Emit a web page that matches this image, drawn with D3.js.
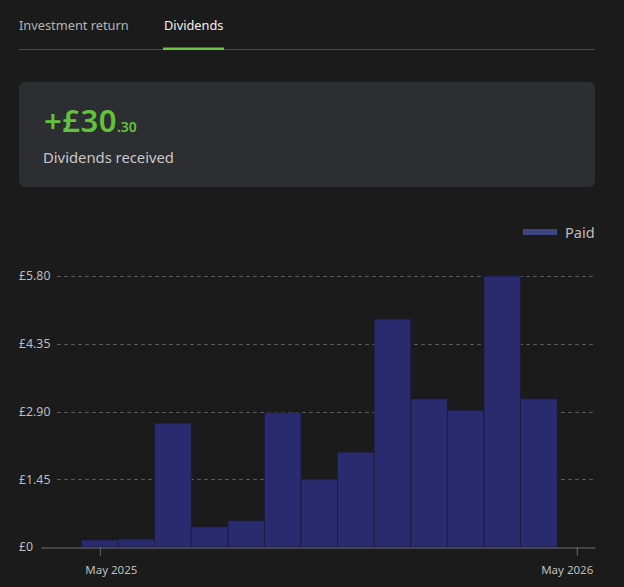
<!DOCTYPE html>
<html>
<head>
<meta charset="utf-8">
<script src="https://cdn.jsdelivr.net/npm/d3@7"></script>
<style>
  html, body { margin: 0; padding: 0; background: #1b1b1b; }
  svg { display: block; font-family: "Noto Sans", "Open Sans", sans-serif; }
</style>
</head>
<body>
<div id="wrapper"></div>
<script>
// four-weekly dividend periods (centre date) and amount paid
const periodDates = ["2025-05-01", "2025-05-29", "2025-06-26", "2025-07-24", "2025-08-21",
    "2025-09-18", "2025-10-16", "2025-11-13", "2025-12-11", "2026-01-08",
    "2026-02-05", "2026-03-05", "2026-04-02"]
const paidValues = [0.15, 0.17, 2.65, 0.43, 0.56, 2.87, 1.45, 2.03, 4.88, 3.17, 2.93, 5.80, 3.17]
const xTickDates = ["2025-05-01", "2026-05-01"]
const tabLabels = ["Investment return", "Dividends"]
const totalReceived = "30.30"
const seriesName = "Paid"

function drawChart() {
    const dimensions = {
        width: 624,
        height: 587,
        margin: { top: 276, right: 29, bottom: 40, left: 41 },
    }
    dimensions.boundedWidth = dimensions.width - dimensions.margin.left - dimensions.margin.right
    dimensions.boundedHeight = dimensions.height - dimensions.margin.top - dimensions.margin.bottom

    const parse = d3.timeParse("%Y-%m-%d")
    const data = periodDates.map((d, i) => ({ date: parse(d), value: paidValues[i] }))

    const svg = d3.select("#wrapper")
        .append("svg")
            .attr("width", dimensions.width)
            .attr("height", dimensions.height)

    // tabs
    const tabX = [19, 164]
    svg.selectAll(".tab")
        .data(tabLabels)
        .join("text")
        .attr("x", (d, i) => tabX[i])
        .attr("y", 30)
        .attr("font-size", 12.8)
        .attr("fill", (d, i) => i == 1 ? "#f0f0f0" : "#b4b4b4")
        .text(d => d)
    svg.append("line")
        .attr("x1", 19).attr("x2", 595)
        .attr("y1", 49.5).attr("y2", 49.5)
        .attr("stroke", "#4a4a4a")
    svg.append("rect")
        .attr("x", 163).attr("y", 47.5)
        .attr("width", 61).attr("height", 2.5)
        .attr("fill", "#6cc644")

    // summary card
    svg.append("rect")
        .attr("x", 19).attr("y", 82)
        .attr("width", 576).attr("height", 105)
        .attr("rx", 6)
        .attr("fill", "#2d2e32")
    const [whole, pence] = totalReceived.split(".")
    const total = svg.append("text")
        .attr("x", 44).attr("y", 132)
        .attr("fill", "#62c23a")
        .attr("font-weight", 600)
    total.append("tspan").attr("font-size", 31).attr("letter-spacing", 0.5).text("+£" + whole)
    total.append("tspan").attr("font-size", 14).text("." + pence)
    svg.append("text")
        .attr("x", 43).attr("y", 163)
        .attr("font-size", 14.8)
        .attr("fill", "#c8c8c8")
        .text("Dividends received")

    // legend
    svg.append("rect")
        .attr("x", 523).attr("y", 229)
        .attr("width", 34).attr("height", 6)
        .attr("fill", "#3d4580")
    svg.append("text")
        .attr("x", 565).attr("y", 238)
        .attr("font-size", 14.5)
        .attr("fill", "#bdbdbd")
        .text(seriesName)

    const bounds = svg.append("g")
        .style("transform", `translate(${dimensions.margin.left}px, ${dimensions.margin.top}px)`)

    // scales
    const half = 14
    const xScale = d3.scaleTime()
        .domain([parse("2025-03-17"), parse("2026-05-15")])
        .range([0, dimensions.boundedWidth])

    const maxValue = d3.max(data, d => d.value)
    const yScale = d3.scaleLinear()
        .domain([0, maxValue])
        .range([dimensions.boundedHeight, 0])
    const yTicks = d3.range(0, 5).map(i => maxValue * i / 4)

    // grid
    bounds.selectAll(".grid")
        .data(yTicks.slice(1))
        .join("line")
        .attr("x1", 16).attr("x2", dimensions.boundedWidth)
        .attr("y1", d => Math.round(yScale(d)) + 0.5)
        .attr("y2", d => Math.round(yScale(d)) + 0.5)
        .attr("stroke", "#575757")
        .attr("stroke-dasharray", "4 3")

    bounds.selectAll(".ylabel")
        .data(yTicks)
        .join("text")
        .attr("x", -22)
        .attr("y", d => yScale(d))
        .attr("dy", "0.35em")
        .attr("font-size", 12.3)
        .attr("fill", "#bdbdbd")
        .text(d => d == 0 ? "£0" : "£" + d.toFixed(2))

    // bars
    bounds.selectAll(".bar")
        .data(data)
        .join("rect")
        .attr("x", d => xScale(d3.timeDay.offset(d.date, -half)))
        .attr("width", d => xScale(d3.timeDay.offset(d.date, half)) - xScale(d3.timeDay.offset(d.date, -half)))
        .attr("y", d => yScale(d.value))
        .attr("height", d => yScale(0) - yScale(d.value))
        .attr("fill", "#2a2a6f")
        .attr("stroke", "#1c1c3c")
        .attr("stroke-width", 0.8)

    // x axis
    const xAxis = d3.axisBottom(xScale)
        .tickValues(xTickDates.map(parse))
        .tickFormat(d3.timeFormat("%b %Y"))
        .tickSize(8)
        .tickSizeOuter(0)
    const xAxisG = bounds.append("g")
        .attr("transform", `translate(0, ${dimensions.boundedHeight + 0.5})`)
        .call(xAxis)
    xAxisG.select(".domain").attr("stroke", "#6f6f80")
    xAxisG.selectAll(".tick line").attr("stroke", "#6f6f6f")
    xAxisG.selectAll(".tick text")
        .attr("font-family", "Noto Sans, sans-serif")
        .attr("font-size", 11.5)
        .attr("fill", "#bdbdbd")
        .attr("dy", "1.35em")
        .attr("dx", (d, i) => i == 0 ? 11 : -10)
}

drawChart()
</script>
</body>
</html>
